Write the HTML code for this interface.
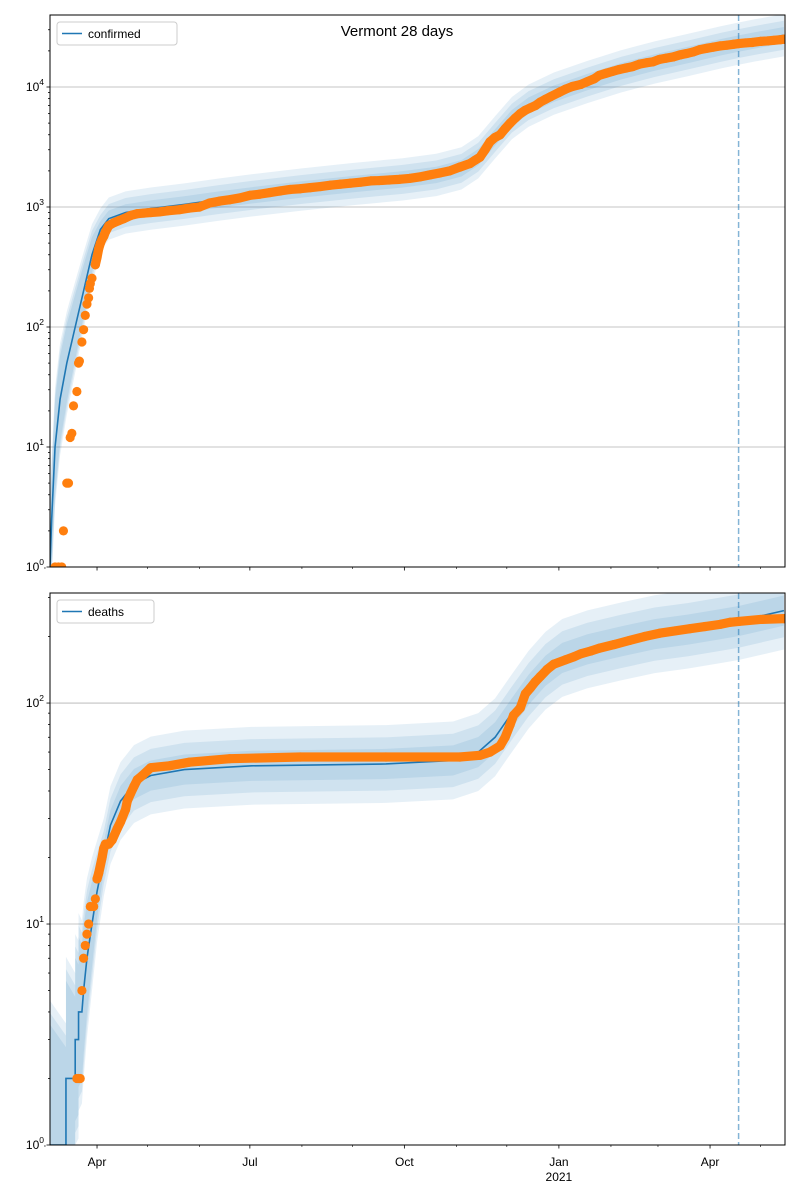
<!DOCTYPE html>
<html><head><meta charset="utf-8"><style>
body{margin:0;background:#fff;}
svg{display:block;font-family:"Liberation Sans",sans-serif;}
</style></head><body>
<svg id="chart" width="800" height="1200"></svg>
<script>
// ---- data (day offset from 2020-03-04) ----
const confDays = [3,5,7,8,10,11,12,13,14,16,17,17.5,19,20,21,22,23,23.5,24,25,27,28,29,30,31,32,33,35,38,41,44,48,52,56,60,65,70,77,83,89,95,101,107,113,119,125,131,137,143,149,155,161,167,173,179,185,191,196,202,208,214,220,226,232,238,244,250,253,256,259,262,265,268,271,274,277,280,283,286,289,292,295,298,303,307,311,316,320,324,327,331,335,339,343,347,351,355,359,363,367,371,375,379,383,387,391,395,399,403,407,410,414,418,423,427,431,435,437];
const confVals = [1,1,1,2,5,5,12,13,22,29,50,52,75,95,125,155,175,210,230,255,330,380,450,500,540,570,620,700,740,770,800,850,880,890,900,910,930,950,980,1000,1080,1120,1150,1190,1250,1280,1320,1360,1400,1420,1450,1480,1520,1550,1580,1610,1650,1660,1680,1700,1730,1780,1850,1920,2000,2150,2300,2450,2600,3000,3500,3800,4000,4500,5000,5500,6000,6400,6700,7000,7500,7900,8300,9000,9600,10100,10500,11100,11700,12500,13000,13500,14000,14400,14800,15500,15900,16200,17000,17400,17800,18500,19000,19600,20500,21000,21500,22000,22300,22700,23000,23300,23500,24000,24200,24500,24800,25000];
const confModelDays = [0,1,2,3,6,10,15,20,25,30,35,45,60,80,100,120,150,180,210,230,245,255,265,275,285,300,320,340,360,380,400,410,420,437];
const confModelVals = [1,2.5,5,10,25,50,100,200,400,650,800,900,970,1050,1150,1250,1400,1550,1700,1850,2100,2600,3800,5500,7000,8800,11000,13500,16000,18500,21500,23000,24500,27000];

const deathDays = [16,17,18,19,20,21,22,23,24,26,27,28,29,31,32,33,35,37,40,42,45,46,48,50,52,55,60,71,83,95,107,149,200,244,256,262,268,271,274,276,280,283,286,289,292,296,300,307,312,316,322,327,336,345,354,363,372,381,390,399,405,410,423,437];
const deathVals = [2,2,2,5,7,8,9,10,12,12,13,16,17,20,22,23,23,24,27,29,33,36,39,42,45,47,51,52,54,55,56,57,57,57,58,60,64,70,80,88,95,110,117,125,132,142,150,157,162,167,172,177,184,192,200,207,212,217,222,227,232,234,239,241];
const deathModelDays = [0,9.5,9.5,15,15,17,17,19,20,22,25,28,32,36,42,50,60,80,120,200,240,255,265,275,285,295,305,320,340,360,380,400,410,437];
const deathModelVals = [1,1,2,2,3,3,4,4,5,7,10,14,20,28,36,43,47,50,52,53,55,60,70,90,115,140,160,175,190,205,215,228,235,262];

const xTickDays = [28,119,211,303,393];
const xTickLabels = ['Apr','Jul','Oct','Jan','Apr'];
const minorDays = [-3,58,89,150,180,242,272,334,362,423];
const forecastDay = 410;

// ---- layout ----
const X0=50,X1=785,PXD=1.6795;
const xs=d=>X0+d*PXD;
const svg=document.getElementById('chart');
const NS='http://www.w3.org/2000/svg';
function mk(t,a,p){const e=document.createElementNS(NS,t);for(const k in a)e.setAttribute(k,a[k]);(p||svg).appendChild(e);return e;}

function panel(name,top,bot,lmin,lmax,mDays,mVals,oDays,oVals,labelsX,legendText,legendW,early,trailStart){
  const ys=v=>bot-(Math.log10(v)-lmin)/(lmax-lmin)*(bot-top);
  const g=mk('g',{});
  
  
  const cid='clip-'+name;
  const cp=mk('clipPath',{id:cid},g);mk('rect',{x:X0,y:top,width:X1-X0,height:bot-top},cp);
  const inner=mk('g',{'clip-path':'url(#'+cid+')'},g);
  for(let p=Math.ceil(lmin);p<=lmax;p++){
    const gl=mk('line',{x1:X0,x2:X1,y1:ys(Math.pow(10,p)),y2:ys(Math.pow(10,p)),stroke:'#b0b0b0','stroke-width':0.8},inner);
    
    
  }
  [1.5,1.32,1.17].forEach((f,bi)=>{
    let up='',lo='';
    mDays.forEach((d,i)=>{const e=early&&d<30?1+(30-d)/30*(early-1):1;const fu=f*e;const v=mVals[i];
      up+=xs(d)+','+ys(v*fu)+' ';});
    for(let i=mDays.length-1;i>=0;i--){const d=mDays[i];const e=early&&d<30?1+(30-d)/30*(early-1):1;
      lo+=xs(d)+','+ys(Math.max(mVals[i]/(f*e),0.5))+' ';}
    const b=mk('polygon',{points:up+lo,fill:'#1f77b4','fill-opacity':0.11},inner);
    
    
  });
  const ml=mk('polyline',{points:mDays.map((d,i)=>xs(d)+','+ys(mVals[i])).join(' '),fill:'none',stroke:'#1f77b4','stroke-width':1.6},inner);
  
  
  const fl=mk('line',{x1:xs(forecastDay),x2:xs(forecastDay),y1:top,y2:bot,stroke:'#1f77b4','stroke-opacity':0.55,'stroke-width':1.5,'stroke-dasharray':'6,3'},inner);
  
  
  // continuous trail of daily observations (dense dots merge into a band)
  const trailPts=oDays.map((d,i)=>[d,oVals[i]]).filter(p=>p[0]>=trailStart);
  const tr=mk('polyline',{points:trailPts.map(p=>xs(p[0])+','+ys(p[1])).join(' '),fill:'none',stroke:'#ff7f0e','stroke-width':9.2,'stroke-linecap':'round','stroke-linejoin':'round'},inner);
  
  
  oDays.forEach((d,i)=>{
    const c=mk('circle',{cx:xs(d),cy:ys(oVals[i]),r:4.6,fill:'#ff7f0e'},inner);
    
    
  });
  const fr=mk('rect',{x:X0,y:top,width:X1-X0,height:bot-top,fill:'none',stroke:'#000','stroke-width':1},g);
  
  
  for(let p=Math.floor(lmin);p<=Math.ceil(lmax);p++){
    for(let m=1;m<10;m++){const v=m*Math.pow(10,p);if(Math.log10(v)<lmin-1e-9||Math.log10(v)>lmax)continue;
      const y=ys(v);mk('line',{x1:X0,x2:X0-(m==1?3.5:2),y1:y,y2:y,stroke:'#000','stroke-width':0.8},g);
      if(m==1){const t=mk('text',{x:X0-6,y:y+4,'text-anchor':'end','font-size':12},g);
        
        
        const a=document.createElementNS(NS,'tspan');a.textContent='10';t.appendChild(a);
        const s=document.createElementNS(NS,'tspan');s.setAttribute('dy','-6');s.setAttribute('font-size','8.5');s.textContent=String(p);t.appendChild(s);
      }}
  }
  xTickDays.forEach((d,i)=>{mk('line',{x1:xs(d),x2:xs(d),y1:bot,y2:bot+3.5,stroke:'#000','stroke-width':0.8},g);
    if(labelsX){const t=mk('text',{x:xs(d),y:bot+21,'text-anchor':'middle','font-size':12},g);t.textContent=xTickLabels[i];
      
      }});
  minorDays.forEach(d=>mk('line',{x1:xs(d),x2:xs(d),y1:bot,y2:bot+2,stroke:'#000','stroke-width':0.6},g));
  if(labelsX){const t=mk('text',{x:xs(303),y:bot+36,'text-anchor':'middle','font-size':12},g);t.textContent='2021';
    
    }
  const lg=mk('g',{},g);
  
  
  mk('rect',{x:57,y:top+7,width:legendW,height:23,rx:3,fill:'#fff','fill-opacity':0.8,stroke:'#ccc'},lg);
  mk('line',{x1:62,x2:82,y1:top+18.5,y2:top+18.5,stroke:'#1f77b4','stroke-width':1.6},lg);
  const lt=mk('text',{x:88,y:top+23,'font-size':12},lg);lt.textContent=legendText;
}
panel('confirmed',15,567,0,4.6,confModelDays,confModelVals,confDays,confVals,false,'confirmed',120,2.2,27);
panel('deaths',593,1145,0,2.498,deathModelDays,deathModelVals,deathDays,deathVals,true,'deaths',97,3,28);
const title=mk('text',{x:397,y:36,'text-anchor':'middle','font-size':15});
title.textContent='Vermont 28 days';


</script>
</body></html>
